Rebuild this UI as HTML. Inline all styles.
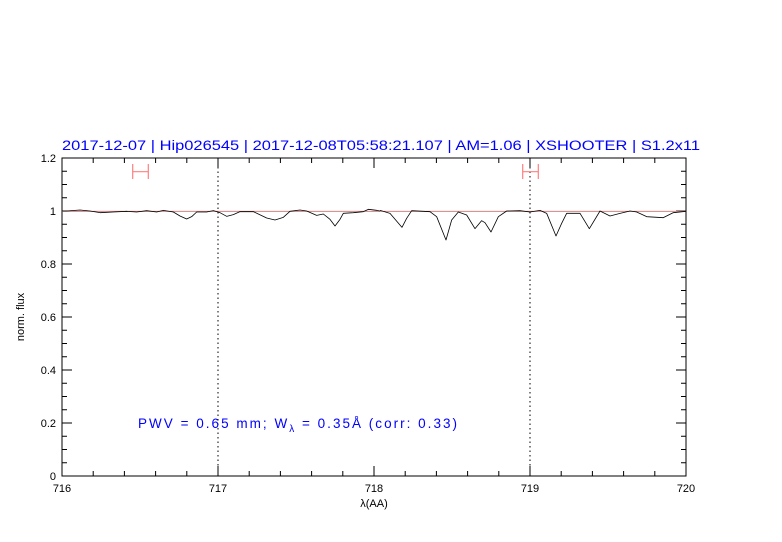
<!DOCTYPE html>
<html><head><meta charset="utf-8"><style>
html,body{margin:0;padding:0;background:#fff;}
svg{display:block;font-family:"Liberation Sans",sans-serif;}
</style></head><body>
<svg width="782" height="542" viewBox="0 0 782 542" xmlns="http://www.w3.org/2000/svg">
<rect width="782" height="542" fill="#fff"/>
<text x="62" y="150" font-size="13.5" fill="#0000ff" textLength="638" lengthAdjust="spacingAndGlyphs">2017-12-07 | Hip026545 | 2017-12-08T05:58:21.107 | AM=1.06 | XSHOOTER | S1.2x11</text>
<g stroke="#000" stroke-width="1" fill="none">
<rect x="62" y="158" width="624" height="318"/>
<path d="M93.2,476v-5M124.4,476v-5M155.6,476v-5M186.8,476v-5M249.2,476v-5M280.4,476v-5M311.6,476v-5M342.8,476v-5M405.2,476v-5M436.4,476v-5M467.6,476v-5M498.8,476v-5M561.2,476v-5M592.4,476v-5M623.6,476v-5M654.8,476v-5M218,476v-10M374,476v-10M530,476v-10"/>
<path d="M93.2,158v5M124.4,158v5M155.6,158v5M186.8,158v5M249.2,158v5M280.4,158v5M311.6,158v5M342.8,158v5M405.2,158v5M436.4,158v5M467.6,158v5M498.8,158v5M561.2,158v5M592.4,158v5M623.6,158v5M654.8,158v5M218,158v10M374,158v10M530,158v10"/>
<path d="M62,462.75h5M62,449.5h5M62,436.25h5M62,409.75h5M62,396.5h5M62,383.25h5M62,356.75h5M62,343.5h5M62,330.25h5M62,303.75h5M62,290.5h5M62,277.25h5M62,250.75h5M62,237.5h5M62,224.25h5M62,197.75h5M62,184.5h5M62,171.25h5M62,423h10M62,370h10M62,317h10M62,264h10M62,211h10"/>
<path d="M686,462.75h-5M686,449.5h-5M686,436.25h-5M686,409.75h-5M686,396.5h-5M686,383.25h-5M686,356.75h-5M686,343.5h-5M686,330.25h-5M686,303.75h-5M686,290.5h-5M686,277.25h-5M686,250.75h-5M686,237.5h-5M686,224.25h-5M686,197.75h-5M686,184.5h-5M686,171.25h-5M686,423h-10M686,370h-10M686,317h-10M686,264h-10M686,211h-10"/>
</g>
<path d="M218,158V476M530,158V476" stroke="#000" stroke-width="1" stroke-dasharray="1.5,3"/>
<line x1="62" y1="211.3" x2="686" y2="211.3" stroke="#c87070" stroke-width="0.8"/>
<g transform="translate(60,150) scale(0.3333333)" fill="none" stroke="#000" stroke-width="0.8" stroke-linejoin="round">
<polyline vector-effect="non-scaling-stroke" points="6,183 20,183 60,180 90,183 120,188 160,186 200,184 230,186 260,182 290,186 310,181 340,186 360,198 380,207 395,200 410,186 440,186 460,182 480,188 500,199 520,194 540,185 580,185 620,204 645,210 670,202 690,184 720,180 740,183 770,196 790,192 810,208 825,228 840,208 850,190 880,188 910,185 925,178 950,181 960,183"/>
</g>
<g transform="translate(380,150) scale(0.3333333)" fill="none" stroke="#000" stroke-width="0.8" stroke-linejoin="round">
<polyline vector-effect="non-scaling-stroke" points="0,181 30,190 66,232 80,205 95,182 150,185 170,200 198,270 215,210 235,186 260,195 285,236 305,212 315,218 333,246 355,200 380,183 420,182 450,186 480,181 500,190 528,258 545,220 560,190 600,190 628,236 660,183 690,198 720,190 750,183 770,186 800,200 850,203 880,188 918,184"/>
</g>
<g stroke="#ff8080" stroke-width="1.2" fill="none">
<path d="M132.7,171.7H148.3M132.7,164V179M148.3,164V179"/>
<path d="M522.7,171.7H538.3M522.7,164V179M538.3,164V179"/>
</g>
<g font-size="11" fill="#000">
<text x="62" y="492" text-anchor="middle">716</text>
<text x="218" y="492" text-anchor="middle">717</text>
<text x="374" y="492" text-anchor="middle">718</text>
<text x="530" y="492" text-anchor="middle">719</text>
<text x="686" y="492" text-anchor="middle">720</text>
<text x="56" y="480" text-anchor="end">0</text>
<text x="56" y="427" text-anchor="end">0.2</text>
<text x="56" y="374" text-anchor="end">0.4</text>
<text x="56" y="321" text-anchor="end">0.6</text>
<text x="56" y="268" text-anchor="end">0.8</text>
<text x="56" y="215" text-anchor="end">1</text>
<text x="56" y="162" text-anchor="end">1.2</text>
<text x="374" y="507" text-anchor="middle">λ(AA)</text>
<text transform="translate(24,317) rotate(-90)" text-anchor="middle">norm. flux</text>
</g>
<text x="138" y="428" font-size="13.5" fill="#0000ff" textLength="319" lengthAdjust="spacing">PWV = 0.65 mm; W<tspan font-size="10" dy="4">λ</tspan><tspan dy="-4"> = 0.35Å (corr: 0.33)</tspan></text>
</svg>
</body></html>
